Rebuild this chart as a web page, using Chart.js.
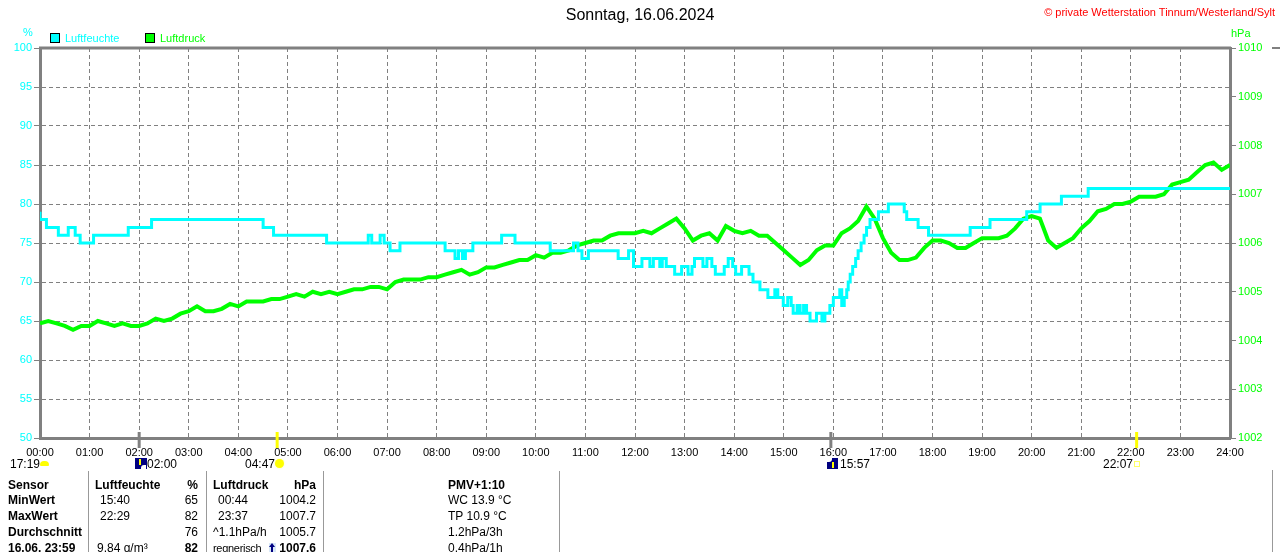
<!DOCTYPE html>
<html>
<head>
<meta charset="utf-8">
<script src="https://cdn.jsdelivr.net/npm/chart.js@4.4.1/dist/chart.umd.min.js"></script>
<style>
html,body{margin:0;padding:0;background:#fff;}
#wrap{position:relative;width:1280px;height:552px;overflow:hidden;font-family:"Liberation Sans",Arial,sans-serif;}
#c{position:absolute;left:0;top:0;}
.t{position:absolute;white-space:nowrap;font-size:12px;line-height:14px;color:#000;}
.b{font-weight:bold;}
.r{text-align:right;}
.vl{position:absolute;width:1px;background:#999;}
.box{position:absolute;width:8px;height:8px;border:1px solid #000;}
</style>
</head>
<body>
<div id="wrap">
<canvas id="c" width="1280" height="552"></canvas>

<div class="t" style="left:0;width:1280px;top:6px;font-size:16px;line-height:18px;text-align:center;">Sonntag, 16.06.2024</div>
<div class="t r" style="right:5px;top:5px;font-size:11px;color:#ff0000;">&copy; private Wetterstation Tinnum/Westerland/Sylt</div>

<div class="t" style="left:23px;top:25px;font-size:11px;color:#00ffff;">%</div>
<div class="t" style="left:1231px;top:26px;font-size:11px;color:#00ff00;">hPa</div>

<div class="box" style="left:50px;top:33px;background:#00ffff;"></div>
<div class="t" style="left:65px;top:31px;font-size:11px;color:#00ffff;">Luftfeuchte</div>
<div class="box" style="left:145px;top:33px;background:#00ff00;"></div>
<div class="t" style="left:160px;top:31px;font-size:11px;color:#00ff00;">Luftdruck</div>

<!-- sun / moon times under the axis -->
<div class="t" style="left:10px;top:457px;">17:19</div>
<div style="position:absolute;left:40px;top:461px;width:9px;height:5px;background:#ffff00;border-radius:4px 4px 1px 1px;"></div>
<div style="position:absolute;left:135px;top:458px;width:12px;height:11px;background:#000080;"></div>
<div style="position:absolute;left:139px;top:459px;width:2px;height:6px;background:#ffff00;"></div>
<div style="position:absolute;left:141px;top:465px;width:5px;height:4px;background:#ffffff;border-radius:3px 0 0 0;"></div>
<div class="t" style="left:147px;top:457px;">02:00</div>
<div class="t" style="left:245px;top:457px;">04:47</div>
<div style="position:absolute;left:275px;top:459px;width:9px;height:9px;background:#ffff00;border-radius:50%;box-shadow:0 0 2px #ffff99;"></div>
<div style="position:absolute;left:827px;top:458px;width:11px;height:11px;background:#000080;"></div>
<div style="position:absolute;left:827px;top:458px;width:5px;height:4px;background:#ffffff;border-radius:0 0 3px 0;"></div>
<div style="position:absolute;left:832px;top:462px;width:2px;height:6px;background:#ffff00;"></div>
<div class="t" style="left:840px;top:457px;">15:57</div>
<div class="t" style="left:1103px;top:457px;">22:07</div>
<div style="position:absolute;left:1134px;top:461px;width:4px;height:4px;border:1px solid #ffff66;"></div>

<!-- table -->
<div class="vl" style="left:88px;top:471px;height:81px;"></div>
<div class="vl" style="left:206px;top:471px;height:81px;"></div>
<div class="vl" style="left:323px;top:471px;height:81px;"></div>
<div class="vl" style="left:559px;top:471px;height:81px;"></div>

<div class="t b" style="left:8px;top:478px;">Sensor</div>
<div class="t b" style="left:95px;top:478px;">Luftfeuchte</div>
<div class="t b r" style="left:150px;width:48px;top:478px;">%</div>
<div class="t b" style="left:213px;top:478px;">Luftdruck</div>
<div class="t b r" style="left:260px;width:56px;top:478px;">hPa</div>
<div class="t b" style="left:448px;top:478px;">PMV+1:10</div>

<div class="t b" style="left:8px;top:493px;">MinWert</div>
<div class="t" style="left:100px;top:493px;">15:40</div>
<div class="t r" style="left:150px;width:48px;top:493px;">65</div>
<div class="t" style="left:218px;top:493px;">00:44</div>
<div class="t r" style="left:260px;width:56px;top:493px;">1004.2</div>
<div class="t" style="left:448px;top:493px;">WC 13.9 &deg;C</div>

<div class="t b" style="left:8px;top:509px;">MaxWert</div>
<div class="t" style="left:100px;top:509px;">22:29</div>
<div class="t r" style="left:150px;width:48px;top:509px;">82</div>
<div class="t" style="left:218px;top:509px;">23:37</div>
<div class="t r" style="left:260px;width:56px;top:509px;">1007.7</div>
<div class="t" style="left:448px;top:509px;">TP 10.9 &deg;C</div>

<div class="t b" style="left:8px;top:525px;">Durchschnitt</div>
<div class="t r" style="left:150px;width:48px;top:525px;">76</div>
<div class="t" style="left:213px;top:525px;">^1.1hPa/h</div>
<div class="t r" style="left:260px;width:56px;top:525px;">1005.7</div>
<div class="t" style="left:448px;top:525px;">1.2hPa/3h</div>

<div class="t b" style="left:8px;top:541px;">16.06. 23:59</div>
<div class="t" style="left:97px;top:541px;">9.84 g/m&sup3;</div>
<div class="t b r" style="left:150px;width:48px;top:541px;">82</div>
<div class="t" style="left:213px;top:541px;font-size:11px;letter-spacing:-0.3px;">regnerisch</div>
<div style="position:absolute;left:269px;top:543px;width:7px;height:10px;background:#d8e8f8;"></div>
<div style="position:absolute;left:271px;top:545px;width:2px;height:8px;background:#000080;"></div>
<div style="position:absolute;left:269px;top:543px;width:0;height:0;border-left:3px solid transparent;border-right:3px solid transparent;border-bottom:4px solid #000080;"></div>
<div class="t b r" style="left:260px;width:56px;top:541px;">1007.6</div>
<div class="t" style="left:448px;top:541px;">0.4hPa/1h</div>

<!-- edge of the neighbouring panel -->
<div style="position:absolute;left:1272px;top:47px;width:8px;height:2px;background:#808080;"></div>
<div class="vl" style="left:1272px;top:470px;height:82px;"></div>
</div>

<script>

/* Data */

const hourLabels = ["00:00","01:00","02:00","03:00","04:00","05:00","06:00","07:00","08:00",
"09:00","10:00","11:00","12:00","13:00","14:00","15:00","16:00","17:00","18:00","19:00",
"20:00","21:00","22:00","23:00","24:00"];

// Luftfeuchte: change points (hour, %), value holds until next point
const humTimes = [0,0.13,0.37,0.57,0.71,0.81,1.08,1.78,2.25,4.5,4.71,5.78,6.62,6.69,6.86,6.94,7.06,7.26,
8.17,8.37,8.44,8.52,8.58,8.73,9.31,9.58,10.29,10.76,10.85,10.93,11.06,11.66,11.87,11.97,
12.14,12.3,12.37,12.5,12.55,12.63,12.8,12.94,13.07,13.15,13.2,13.37,13.45,13.55,13.62,13.8,13.88,13.97,14.03,
14.15,14.3,14.38,14.52,14.68,14.82,14.88,14.99,15.08,15.15,15.19,15.27,15.33,15.4,15.46,15.53,15.66,15.77,15.83,15.93,
16.0,16.13,16.17,16.22,16.27,16.3,16.34,16.39,16.45,16.5,16.56,16.62,16.67,16.74,16.91,17.11,17.43,17.48,17.71,17.92,
18.76,19.16,19.9,20.17,20.6,21.14,22.49,24];
const humValues = [79,78,77,76,77,76,75,76,77,78,77,76,75,76,75,76,75,74,
75,74,73,74,73,74,75,76,75,74,75,74,73,74,73,74,
72,73,72,73,72,73,72,71,72,71,72,73,72,73,72,71,72,73,72,
71,72,71,70,69,68,69,68,67,68,67,66,67,66,67,66,65,66,65,66,
67,68,69,67,68,69,70,71,72,73,74,75,76,77,78,79,80,79,78,77,
76,77,78,79,80,81,82,82];

// Luftdruck every 10 minutes from 00:00 to 24:00 (hPa)
const pressStep = 1 / 6;
const pressValues = [
1004.35,1004.40,1004.35,1004.30,1004.22,1004.30,
1004.30,1004.40,1004.35,1004.30,1004.35,1004.30,
1004.30,1004.35,1004.45,1004.40,1004.45,1004.55,
1004.60,1004.70,1004.60,1004.60,1004.65,1004.75,
1004.70,1004.80,1004.80,1004.80,1004.85,1004.85,
1004.90,1004.95,1004.90,1005.00,1004.95,1005.00,
1004.95,1005.00,1005.05,1005.05,1005.10,1005.10,
1005.05,1005.20,1005.25,1005.25,1005.25,1005.30,
1005.30,1005.35,1005.40,1005.45,1005.35,1005.40,
1005.50,1005.50,1005.55,1005.60,1005.65,1005.65,
1005.75,1005.70,1005.80,1005.80,1005.85,1005.95,
1006.00,1006.05,1006.05,1006.15,1006.20,1006.20,
1006.20,1006.25,1006.20,1006.30,1006.40,1006.50,
1006.30,1006.05,1006.15,1006.20,1006.05,1006.35,
1006.25,1006.20,1006.25,1006.15,1006.15,1006.00,
1005.85,1005.70,1005.55,1005.65,1005.85,1005.95,
1005.95,1006.20,1006.30,1006.45,1006.75,1006.50,
1006.10,1005.80,1005.65,1005.65,1005.70,1005.90,
1006.05,1006.05,1006.00,1005.90,1005.90,1006.00,
1006.10,1006.10,1006.10,1006.15,1006.30,1006.50,
1006.55,1006.50,1006.05,1005.90,1006.00,1006.10,
1006.30,1006.45,1006.65,1006.70,1006.80,1006.80,
1006.85,1006.95,1006.95,1006.95,1007.00,1007.20,
1007.25,1007.30,1007.45,1007.60,1007.65,1007.50,
1007.60];

// sun / moon markers on the time axis
const markerTimes = [2.0, 4.783, 15.95, 22.117];
const markerColors = ["#808080", "#ffff00", "#808080", "#ffff00"];


/* Chart Setup */

const humPoints = humTimes.map((t,i)=>({x:t, y:humValues[i]}));
const pressPoints = pressValues.map((v,i)=>({x:i*pressStep, y:v}));

const tickFont = {family:"Liberation Sans", size:11};

const framePlugin = {
id:"frame",
afterDraw(c){
const a = c.chartArea;
const g = c.ctx;
g.save();
g.strokeStyle = "#808080";
g.lineWidth = 3;
g.beginPath();
g.moveTo(a.left-1, a.top);
g.lineTo(a.right+1, a.top);
g.stroke();

const xs = c.scales.x;
markerTimes.forEach((t,i)=>{
const px = xs.getPixelForValue(t);
g.strokeStyle = markerColors[i];
g.lineWidth = 3;
g.beginPath();
g.moveTo(px, a.bottom-6);
g.lineTo(px, a.bottom+10);
g.stroke();
});
g.restore();
}
};

const ctx = document.getElementById("c").getContext("2d");

const chart = new Chart(ctx, {
type: "line",
data: {
datasets: [{
label: "Luftfeuchte",
data: humPoints,
yAxisID: "yH",
borderColor: "#00ffff",
borderWidth: 3,
stepped: "after",
pointRadius: 0,
fill: false
},{
label: "Luftdruck",
data: pressPoints,
yAxisID: "yP",
borderColor: "#00ff00",
borderWidth: 4,
tension: 0,
pointRadius: 0,
fill: false
}]
},
options: {
responsive: false,
animation: false,
layout: {padding: {top: 48, left: 0, right: 0, bottom: 0}},
plugins: {legend: {display: false}, tooltip: {enabled: false}},
scales: {
x: {
type: "linear",
min: 0, max: 24,
afterFit: s => { s.height = 114; },
ticks: {stepSize: 1, autoSkip: false, maxRotation: 0, color: "#000", font: tickFont, padding: 8,
callback: v => hourLabels[v]},
grid: {color: "#808080", drawTicks: false, lineWidth: 1},
border: {color: "#808080", width: 3, dash: [4,3]}
},
yH: {
position: "left",
min: 50, max: 100,
afterFit: s => { s.width = 40; },
ticks: {stepSize: 5, color: "#00ffff", font: tickFont, padding: 2},
grid: {color: "#808080", tickLength: 6, lineWidth: 1, tickBorderDash: []},
border: {color: "#808080", width: 3, dash: [4,3]}
},
yP: {
position: "right",
min: 1002, max: 1010,
afterFit: s => { s.width = 50; },
ticks: {stepSize: 1, color: "#00ff00", font: tickFont, padding: 2, callback: v => String(v)},
grid: {drawOnChartArea: false, color: "#808080", tickLength: 6},
border: {color: "#808080", width: 3}
}
}
},
plugins: [framePlugin]
});

</script>
</body>
</html>
